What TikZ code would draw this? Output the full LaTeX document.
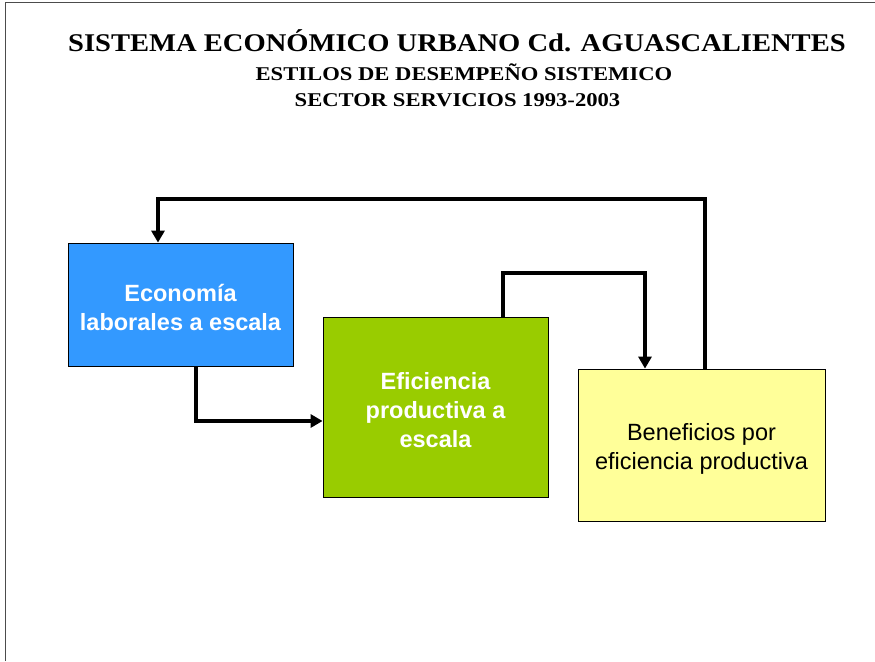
\documentclass[tikz,border=0pt]{standalone}
\usepackage{fontspec}
\setmainfont{Liberation Serif}
\setsansfont{Liberation Sans}
\newfontfamily\titlefont[FakeStretch=1.12]{Liberation Serif}
\newfontfamily\subfont[FakeStretch=1.16]{Liberation Serif}
\usetikzlibrary{arrows.meta}
\definecolor{cblue}{HTML}{3399FF}
\definecolor{cgreen}{HTML}{99CC00}
\definecolor{cyellow}{HTML}{FFFF99}
\newcommand{\boxtext}[2]{\raisebox{-#1}[\height][\depth]{\begin{tabular}{@{}c@{}}#2\end{tabular}}}
\tikzset{
  box/.style={draw=black, line width=0.8pt, inner sep=0pt},
  boxfont/.style={font=\sffamily\bfseries\fontsize{23.5}{29}\selectfont},
  conn/.style={line width=3.3pt, -{Triangle[length=12pt,width=13pt]}},
  ttl/.style={align=center, inner sep=0pt}
}
\begin{document}
\begin{tikzpicture}[x=1pt,y=-1pt]
\useasboundingbox (0,0) rectangle (875,661);
\draw[line width=1.2pt, black!70] (5.5,661) -- (5.5,2.5) -- (875,2.5);
\node[ttl, font=\titlefont\bfseries\fontsize{25.5}{28}\selectfont] (t1) at (457,41) {SISTEMA ECONÓMICO URBANO Cd. AGUASCALIENTES};
\node[ttl, font=\subfont\bfseries\fontsize{19.5}{22}\selectfont] (t2) at (464,72) {ESTILOS DE DESEMPEÑO SISTEMICO};
\node[ttl, font=\subfont\bfseries\fontsize{19.5}{22}\selectfont] (t3) at (457.5,100) {SECTOR SERVICIOS 1993-2003};
\node[box, boxfont, fill=cblue, text=white, minimum width=225pt, minimum height=123pt] (eco) at (180.5,304.5) {\boxtext{6pt}{Economía\\laborales a escala}};
\node[box, boxfont, fill=cgreen, text=white, minimum width=225pt, minimum height=180pt] (efi) at (435.5,407) {\boxtext{5.5pt}{Eficiencia\\productiva a\\escala}};
\node[box, font=\sffamily\fontsize{23.5}{29}\selectfont, fill=cyellow, text=black, minimum width=247pt, minimum height=152pt] (ben) at (701.5,445) {\boxtext{4pt}{Beneficios por\\eficiencia productiva}};
\coordinate (a1) at (196,421);
\draw[conn] (eco.south -| a1) -- (a1) -- (efi.west |- a1);
\coordinate (b1) at (503,273);
\coordinate (b2) at (645,273);
\draw[conn] (efi.north -| b1) -- (b1) -- (b2) -- (ben.north -| b2);
\coordinate (c1) at (705,199);
\coordinate (c2) at (158,199);
\draw[conn] (ben.north -| c1) -- (c1) -- (c2) -- (eco.north -| c2);
\end{tikzpicture}
\end{document}
